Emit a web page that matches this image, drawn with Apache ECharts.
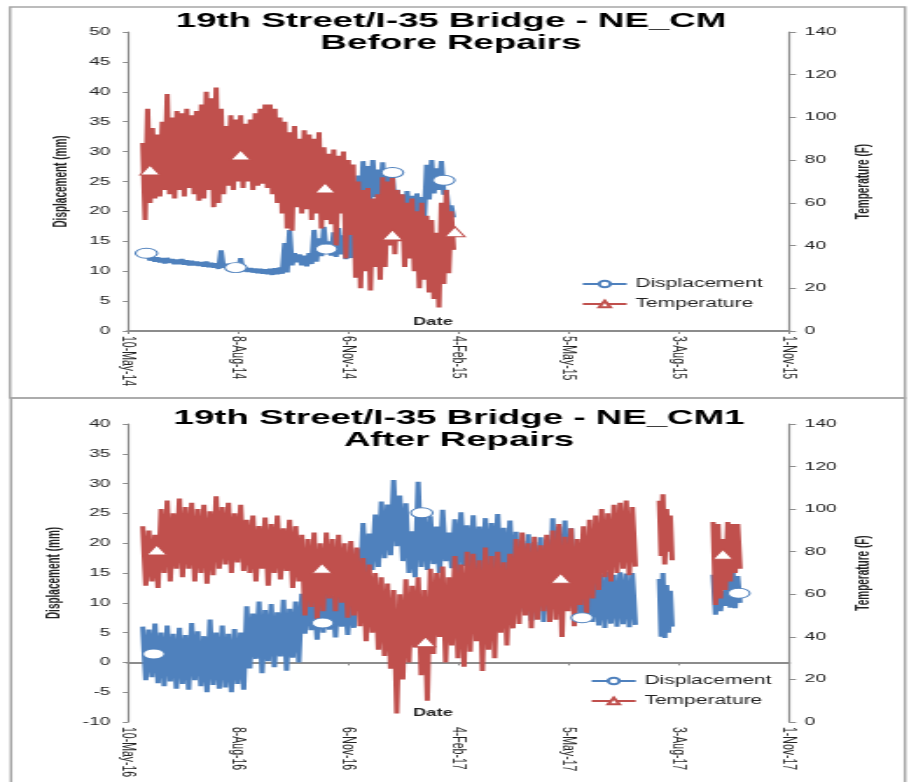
<!DOCTYPE html>
<html>
<head>
<meta charset="utf-8">
<script src="https://cdn.jsdelivr.net/npm/echarts@6/dist/echarts.min.js"></script>
<style>
  html, body { margin: 0; padding: 0; background: #fff; overflow: hidden; }
  /* the source picture is an Excel chart stretched sideways, so draw it narrow and stretch it */
  #chart { width: 524px; height: 782px; transform: scaleX(1.748092); transform-origin: 0 0; }
</style>
</head>
<body>
<div id="chart"></div>
<script>
// x values are days counted from the first tick (10-May)
const topTicks = ['10-May-14', '8-Aug-14', '6-Nov-14', '4-Feb-15', '5-May-15', '3-Aug-15', '1-Nov-15'];
const botTicks = ['10-May-16', '8-Aug-16', '6-Nov-16', '4-Feb-17', '5-May-17', '3-Aug-17', '1-Nov-17'];

// ---- Before repairs (2014-15): daily high / low read every 4 days
const topTempStart = 12;
const topTempHi = [88, 104, 95, 92, 98, 111, 100, 103, 102, 104, 101, 103, 106, 112, 109, 114,
  104, 96, 101, 99, 101, 97, 99, 102, 104, 106, 106, 104, 100, 98, 93, 96, 90, 94, 92,
  90, 93, 86, 83, 85, 82, 84, 80, 78, 70, 66, 67, 62, 64, 72, 70, 73, 66, 64, 60,
  62, 56, 60, 54, 52, 46, 60, 66, 56];
const topTempLo = [52, 60, 62, 63, 66, 64, 62, 66, 63, 67, 64, 61, 62, 66, 58, 60,
  64, 68, 66, 70, 67, 70, 66, 68, 69, 67, 64, 60, 55, 48, 47, 58, 55, 57, 52,
  55, 48, 52, 50, 40, 55, 34, 45, 25, 20, 28, 19, 30, 24, 30, 40, 36, 42, 30, 34,
  28, 20, 24, 18, 15, 11, 22, 27, 38];
const topDispStart = 16;
const topDispHi = [12.8, 12.4, 12.3, 12.2, 12.2, 12.0, 11.9, 12.0, 11.8, 11.7, 11.6, 11.5, 11.6, 11.4, 11.3,
  13.5, 11.2, 11.0, 10.8, 12.2, 10.6, 10.5, 10.4, 10.4, 10.3, 10.4, 10.5, 10.6, 14.7, 16.9,
  13.0, 12.8, 12.6, 13.0, 16.9, 15.5, 17.4, 15.0, 16.5, 17.2, 16.0, 16.4, 17.0, 26.0, 28.4,
  27.6, 28.6, 27.0, 28.2, 26.8, 26.0, 23.6, 22.8, 23.4, 22.6, 23.0, 22.4, 27.8, 28.6, 27.2,
  28.4, 23.6, 21.0];
const topDispLo = [11.8, 11.6, 11.5, 11.3, 11.4, 11.2, 11.2, 11.1, 11.0, 11.0, 10.9, 10.8, 10.7, 10.6, 10.4,
  10.6, 10.4, 10.2, 10.1, 10.0, 9.9, 9.8, 9.7, 9.6, 9.5, 9.4, 9.5, 9.6, 9.8, 11.0,
  11.5, 11.0, 10.8, 11.2, 11.6, 12.5, 13.0, 12.6, 12.4, 12.8, 12.0, 12.2, 12.5, 18.0, 21.5,
  22.0, 22.4, 21.8, 22.6, 22.0, 21.0, 18.5, 18.0, 19.0, 18.4, 19.0, 18.6, 22.0, 23.0, 23.6,
  22.8, 19.8, 19.0];
const topDispMarkDays = [15, 88, 162, 216, 258];
const topDispMarkVals = [13.0, 10.6, 13.7, 26.5, 25.2];
const topTempMarkDays = [18, 92, 161, 216, 267];
const topTempMarkVals = [75.4, 82.4, 67.0, 45.0, 46.5];

// ---- After repairs (2016-17): three recorded stretches
const botTempAStart = 12;   // every 5 days
const botTempAHi = [92, 90, 88, 100, 104, 98, 105, 101, 103, 100, 102, 99, 106, 101, 103, 98, 102,
  95, 97, 92, 96, 93, 97, 91, 95, 92, 88, 86, 89, 84, 89, 86, 88, 84, 85,
  82, 77, 74, 70, 68, 65, 62, 60, 67, 64, 68, 62, 72, 70, 73, 68, 78, 74, 80,
  79, 76, 82, 78, 80, 75, 79, 86, 89, 84, 87, 83, 88, 90, 93, 87, 91, 86, 92, 95,
  97, 100, 98, 102, 103, 104, 101];
const botTempALo = [64, 66, 63, 70, 66, 72, 68, 72, 66, 70, 65, 69, 72, 74, 70, 75, 71,
  70, 66, 72, 64, 70, 67, 71, 63, 66, 50, 54, 48, 52, 58, 52, 56, 49, 50,
  45, 38, 42, 34, 31, 25, 4, 20, 28, 35, 22, 10, 32, 40, 28, 36, 30, 26, 33,
  38, 24, 34, 30, 42, 36, 44, 46, 50, 44, 48, 52, 47, 48, 40, 52, 45, 55, 50, 58,
  62, 68, 66, 70, 72, 69, 73];
const botTempBStart = 434;  // every 3 days
const botTempBHi = [104, 107, 100, 97];
const botTempBLo = [78, 74, 80, 76];
const botTempCStart = 478;  // every 4 days
const botTempCHi = [94, 93, 86, 94, 93, 93];
const botTempCLo = [55, 58, 62, 66, 70, 72];

const botDispAStart = 12;
const botDispAHi = [6.0, 5.5, 6.5, 5.0, 6.2, 4.8, 5.8, 4.6, 6.6, 5.2, 4.4, 7.2, 5.0, 6.2, 4.8, 5.6, 5.0,
  9.4, 8.2, 10.2, 8.8, 9.8, 8.4, 10.5, 9.0, 10.2, 11.5, 12.8, 11.0, 13.3, 12.6, 11.2, 13.0, 11.8, 12.4,
  19.0, 23.4, 21.6, 24.8, 27.0, 26.5, 30.6, 28.0, 26.7, 22.0, 30.3, 25.0, 24.5, 22.8, 25.6, 21.8,
  24.0, 25.2, 23.0, 24.7, 22.8, 24.2, 23.4, 24.9, 22.6, 23.8, 21.9, 20.4, 21.5, 20.2, 21.0, 20.6,
  24.2, 22.8, 23.8, 22.5, 13.0, 12.2, 11.4, 15.0, 14.8, 15.2, 14.7, 15.1, 14.9, 15.0];
const botDispALo = [-3.0, -2.5, -3.5, -4.0, -3.2, -4.4, -3.6, -4.6, -3.0, -4.0, -5.0, -3.8, -4.4, -4.2, -5.0, -3.6, -4.6,
  -1.0, 0.6, -1.8, 0.2, -0.8, 1.0, -1.4, 0.8, 0.0, 4.8, 5.4, 3.8, 5.0, 5.5, 4.2, 6.0, 4.6, 5.8,
  12.0, 14.0, 15.5, 16.0, 17.5, 18.0, 19.5, 17.0, 15.0, 14.3, 16.0, 15.5, 16.5, 15.0, 17.0, 15.8,
  15.0, 16.2, 14.8, 14.0, 15.5, 13.5, 15.0, 14.2, 13.2, 12.0, 8.5, 9.8, 7.0, 9.0, 6.8, 8.0,
  9.5, 10.1, 9.1, 9.6, 7.5, 8.0, 6.8, 6.2, 5.8, 6.5, 6.0, 6.4, 5.9, 6.3];
const botDispBHi = [14.0, 15.0, 13.0, 12.0];
const botDispBLo = [4.3, 4.1, 5.0, 6.0];
const botDispCHi = [14.7, 13.5, 12.0, 15.2, 15.8, 14.5];
const botDispCLo = [8.0, 8.6, 9.5, 9.2, 9.1, 10.0];
const botDispMarkDays = [21, 159, 240, 371, 499];
const botDispMarkVals = [1.4, 6.6, 25.1, 7.5, 11.6];
const botTempMarkDays = [23.5, 158.5, 243, 353.5, 486];
const botTempMarkVals = [80.8, 72.2, 37.7, 67.5, 78.8];

const BLUE = '#4F81BD';
const RED = '#C0504D';
const AXIS = '#8c8c8c';
const TXT = '#222';
const FONT = 'Liberation Sans, Arial, sans-serif';
const SX = 916 / 524;
const px = v => v / SX;   // reference x pixel -> chart pixel

// high at the sample day, low half a step later
function band(start, step, hi, lo) {
  const pts = [];
  for (let i = 0; i < hi.length; i++) {
    pts.push([start + i * step, hi[i]]);
    pts.push([start + i * step + step / 2, lo[i]]);
  }
  return pts;
}
function joinSegs(...segs) {
  let out = [];
  segs.forEach((s, i) => {
    if (i > 0) out.push([s[0][0] - 1, '-']);
    out = out.concat(s);
  });
  return out;
}
const zip = (a, b) => a.map((v, i) => [v, b[i]]);

const topTemp = band(topTempStart, 4, topTempHi, topTempLo);
const topDisp = band(topDispStart, 4, topDispHi, topDispLo);
const botTemp = joinSegs(band(botTempAStart, 5, botTempAHi, botTempALo),
  band(botTempBStart, 3, botTempBHi, botTempBLo), band(botTempCStart, 4, botTempCHi, botTempCLo));
const botDisp = joinSegs(band(botDispAStart, 5, botDispAHi, botDispALo),
  band(botTempBStart, 3, botDispBHi, botDispBLo), band(botTempCStart, 4, botDispCHi, botDispCLo));

function xAxis(grid, ticks) {
  return {
    gridIndex: grid, type: 'value', min: 0, max: 540, interval: 90,
    axisLine: { lineStyle: { color: AXIS, width: 2 } },
    axisTick: { length: 3, lineStyle: { color: AXIS } },
    axisLabel: { rotate: -90, margin: 5, fontSize: 10.5, color: TXT, fontFamily: FONT,
      formatter: v => ticks[Math.round(v / 90)] },
    splitLine: { show: false }
  };
}
function yAxis(grid, pos, min, max, step, name, gap) {
  return {
    gridIndex: grid, type: 'value', position: pos, min: min, max: max, interval: step,
    axisLine: { show: true, lineStyle: { color: AXIS, width: 1.2 } },
    axisTick: { show: true, length: pos == 'left' ? 3 : 4, lineStyle: { color: AXIS } },
    axisLabel: { margin: pos == 'left' ? 10 : 9, fontSize: 11, color: TXT, fontFamily: FONT },
    splitLine: { show: false },
    name: name, nameLocation: 'middle', nameGap: gap, nameRotate: 90,
    nameTextStyle: { fontWeight: 'bold', fontSize: 10, color: TXT, fontFamily: FONT }
  };
}
function lineSeries(name, x, y, data, color, symbol) {
  return {
    name: name, type: 'line', xAxisIndex: x, yAxisIndex: y, data: data,
    showSymbol: false, symbol: symbol, connectNulls: false,
    lineStyle: { color: color, width: 3, join: 'bevel' }, itemStyle: { color: color },
    z: name == 'Temperature' ? 3 : 2
  };
}
function markSeries(x, y, days, vals, color, symbol, size) {
  return {
    type: 'scatter', xAxisIndex: x, yAxisIndex: y, data: zip(days, vals),
    symbol: symbol, symbolSize: size, z: 5,
    itemStyle: { color: '#fff', borderColor: color, borderWidth: 1, opacity: 1 }
  };
}
function legend(left, top) {
  return {
    data: ['Displacement', 'Temperature'], orient: 'vertical', left: left, top: top, padding: 0,
    itemWidth: px(44), itemHeight: 8, itemGap: 6,
    textStyle: { fontSize: 12, color: TXT, lineHeight: 14, fontFamily: FONT }
  };
}
function dateLabel(y) {
  return { type: 'text', silent: true, x: px(413), y: y,
    style: { text: 'Date', font: 'bold 10.5px ' + FONT, fill: TXT } };
}
function frame(x, y, w, h) {
  return { type: 'rect', silent: true, shape: { x: x, y: y, width: w, height: h },
    style: { fill: 'none', stroke: '#a6a6a6', lineWidth: 1.5 } };
}
const titleStyle = { fontSize: 21, fontWeight: 'bold', color: '#000', lineHeight: 22, fontFamily: FONT };

const chart = echarts.init(document.getElementById('chart'));
chart.setOption({
  animation: false,
  backgroundColor: '#fff',
  title: [
    { text: '19th Street/I-35 Bridge - NE_CM\nBefore Repairs', left: px(451), top: 10, padding: 0,
      textAlign: 'center', textStyle: titleStyle },
    { text: '19th Street/I-35 Bridge - NE_CM1\nAfter Repairs', left: px(459), top: 407, padding: 0,
      textAlign: 'center', textStyle: titleStyle }
  ],
  legend: [legend(px(581), 277), legend(px(590), 674)],
  grid: [
    { left: px(128), right: 524 - px(789), top: 32, height: 299 },
    { left: px(128), right: 524 - px(789), top: 424, height: 298 }
  ],
  xAxis: [xAxis(0, topTicks), xAxis(1, botTicks)],
  yAxis: [
    yAxis(0, 'left', 0, 50, 5, 'Displacement (mm)', 25),
    yAxis(0, 'right', 0, 140, 20, 'Temperature (F)', 36),
    yAxis(1, 'left', -10, 40, 5, 'Displacement (mm)', 28),
    yAxis(1, 'right', 0, 140, 20, 'Temperature (F)', 36)
  ],
  graphic: [
    frame(px(10), 7, px(895), 391),
    frame(px(11), 398, px(894), 400),
    dateLabel(317),
    dateLabel(708)
  ],
  series: [
    lineSeries('Displacement', 0, 0, topDisp, BLUE, 'emptyCircle'),
    lineSeries('Temperature', 0, 1, topTemp, RED, 'emptyTriangle'),
    markSeries(0, 0, topDispMarkDays, topDispMarkVals, BLUE, 'circle', [12.5, 10]),
    markSeries(0, 1, topTempMarkDays, topTempMarkVals, RED, 'triangle', [11.5, 10]),
    lineSeries('Displacement', 1, 2, botDisp, BLUE, 'emptyCircle'),
    lineSeries('Temperature', 1, 3, botTemp, RED, 'emptyTriangle'),
    markSeries(1, 2, botDispMarkDays, botDispMarkVals, BLUE, 'circle', [12.5, 10]),
    markSeries(1, 3, botTempMarkDays, botTempMarkVals, RED, 'triangle', [11.5, 10])
  ]
});
</script>
</body>
</html>
